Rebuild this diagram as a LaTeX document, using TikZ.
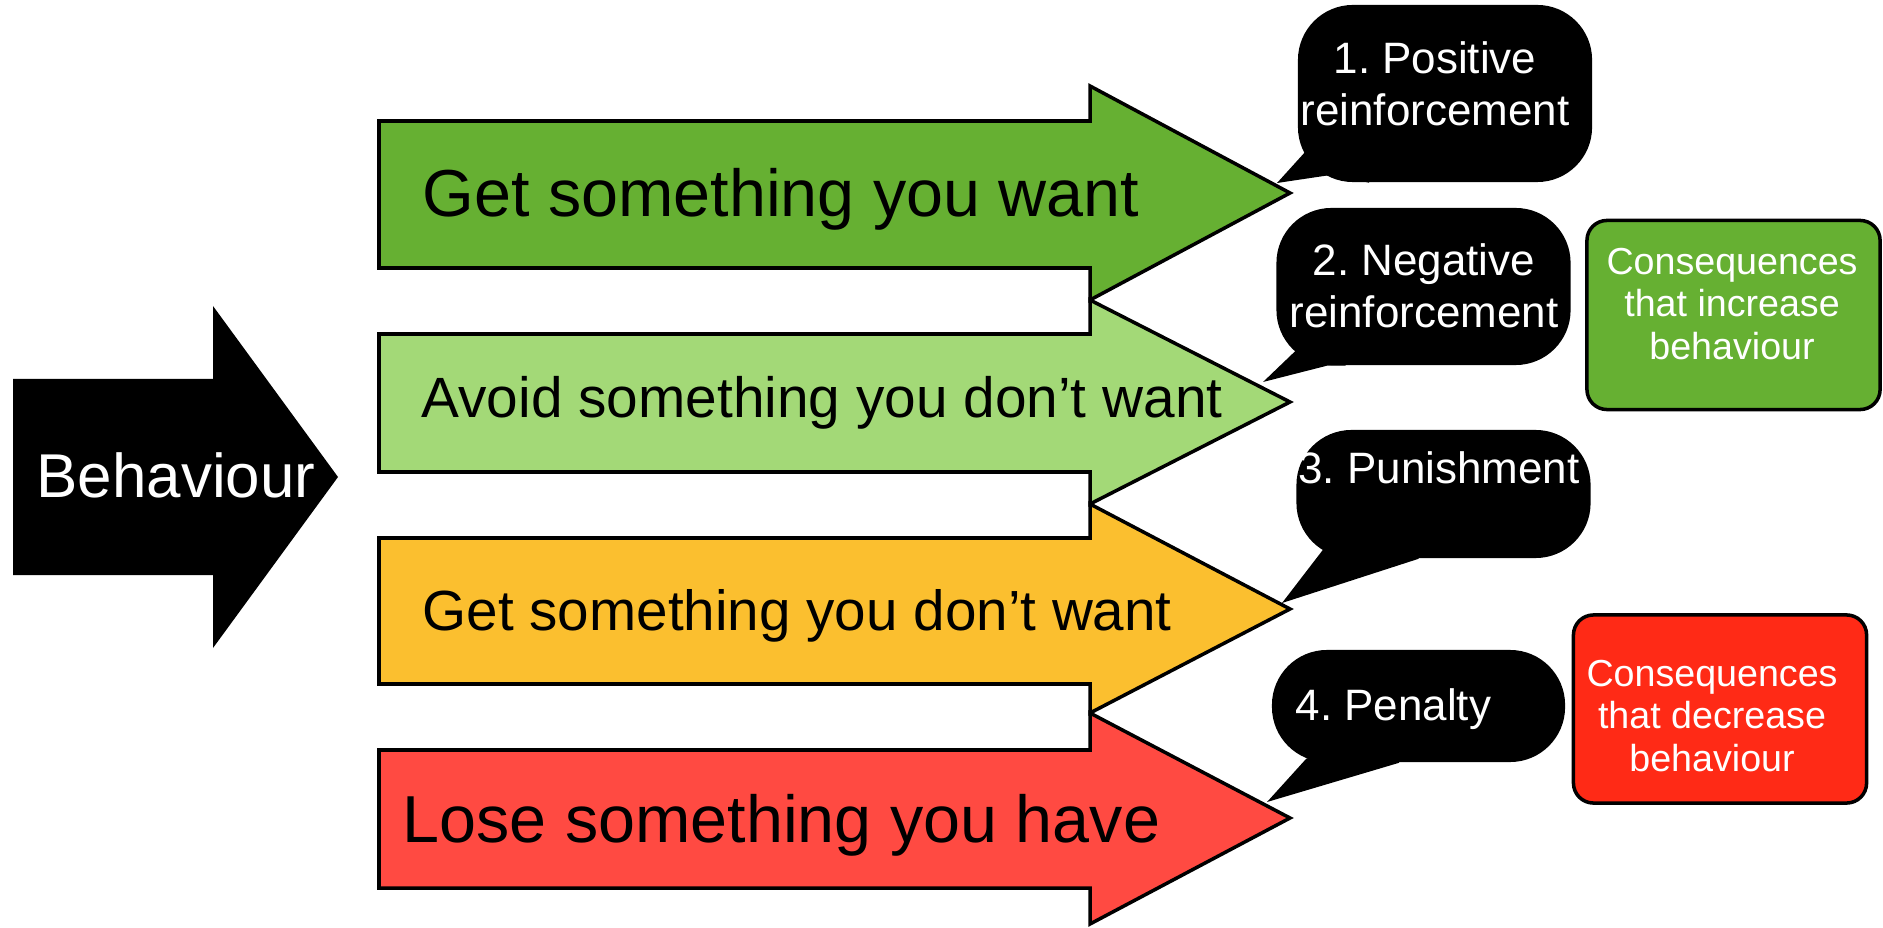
\documentclass[tikz,border=0pt]{standalone}
\usepackage{fontspec}
\setmainfont{Liberation Sans}
\usetikzlibrary{calc}
\definecolor{wantgreen}{HTML}{66B032}
\definecolor{avoidgreen}{HTML}{A3D977}
\definecolor{dontyellow}{HTML}{FBBF2F}
\definecolor{losered}{HTML}{FF4A42}
\definecolor{boxred}{HTML}{FF2A16}
\frenchspacing

\begin{document}
\begin{tikzpicture}[
    x=0.01cm, y=-0.01cm,
    bigarrow/.style = {draw=black, line width=1pt, line join=miter},
    arrowtext/.style = {anchor=base west, inner sep=0, text=black},
    bubble/.style = {fill=black, rounded corners=5.5mm, minimum width=2.94cm, inner sep=0},
    bubbletext/.style = {text=white, align=center, inner sep=0, font=\fontsize{12.5}{14.8}\selectfont},
    consbox/.style = {draw=black, line width=1pt, rounded corners=2mm, minimum width=2.93cm, minimum height=1.89cm, inner sep=0},
    constext/.style = {text=white, align=center, inner sep=0, font=\fontsize{10.7}{12.2}\selectfont}
  ]
  \useasboundingbox (0,0) rectangle (1883,928);

  \fill (13,379) -- (213,379) -- (213,306) -- (338,477) -- (213,648) -- (213,575) -- (13,575) -- cycle;
  \node[anchor=base, text=white, inner sep=0, font=\fontsize{17.6}{20}\selectfont] (behaviour) at (176,498) {Behaviour};

  \draw[bigarrow, fill=wantgreen] (379,121) -- (1090,121) -- (1090,86) -- (1290,193) -- (1090,300) -- (1090,268) -- (379,268) -- cycle;
  \draw[bigarrow, fill=avoidgreen] (379,334) -- (1090,334) -- (1090,300) -- (1290,402) -- (1090,504) -- (1090,472) -- (379,472) -- cycle;
  \draw[bigarrow, fill=dontyellow] (379,538) -- (1090,538) -- (1090,504) -- (1290,609) -- (1090,713) -- (1090,684) -- (379,684) -- cycle;
  \draw[bigarrow, fill=losered] (379,750) -- (1090,750) -- (1090,713) -- (1290,818) -- (1090,924) -- (1090,888) -- (379,888) -- cycle;

  \node[arrowtext, font=\fontsize{18.9}{22}\selectfont] (want_text) at (422,217) {Get something you want};
  \node[arrowtext, font=\fontsize{16.15}{19}\selectfont] (avoid_text) at (421,418) {Avoid something you don’t want};
  \node[arrowtext, font=\fontsize{16.1}{19}\selectfont] (dont_text) at (422,630) {Get something you don’t want};
  \node[arrowtext, font=\fontsize{18.9}{22}\selectfont] (lose_text) at (402,842) {Lose something you have};

  \node[bubble, minimum height=1.77cm] (bubble_1) at (1445,93.5) {};
  \node[bubble, minimum height=1.57cm] (bubble_2) at (1423.5,286.5) {};
  \node[bubble, minimum height=1.28cm] (bubble_3) at (1443.5,494) {};
  \node[bubble, minimum height=1.12cm, minimum width=2.93cm] (bubble_4) at (1418.5,706) {};

  \coordinate (tip_1) at (1277,183);
  \coordinate (tip_2) at (1263,382);
  \coordinate (tip_3) at (1282,603);
  \coordinate (tip_4) at (1267,802);

  \fill ($(bubble_1.south west)+(9,-32)$) -- (tip_1) -- ($(bubble_1.south west)+(35,-8)$) -- ($(bubble_1.south west)+(72,0)$) -- ($(bubble_1.south west)+(72,-40)$) -- cycle;
  \fill ($(bubble_2.south west)+(22,-17)$) -- (tip_2) -- ($(bubble_2.south west)+(51,0)$) -- ($(bubble_2.south west)+(70,0)$) -- ($(bubble_2.south west)+(70,-40)$) -- cycle;
  \fill ($(bubble_3.south west)+(28,-10)$) -- (tip_3) -- ($(bubble_3.south west)+(123,0)$) -- ($(bubble_3.south west)+(123,-40)$) -- cycle;
  \fill ($(bubble_4.south west)+(35,-4)$) -- (tip_4) -- ($(bubble_4.south west)+(128,0)$) -- ($(bubble_4.south west)+(128,-40)$) -- cycle;

  \node[bubbletext] (label_1) at (1435,84) {1. Positive\\reinforcement};
  \node[bubbletext] (label_2) at (1424,286) {2. Negative\\reinforcement};
  \node[bubbletext, anchor=base] (label_3) at (1439,483) {3. Punishment};
  \node[bubbletext, anchor=base west] (label_4) at (1295,720) {4. Penalty};

  \node[consbox, fill=wantgreen] (increase_box) at (1733.5,315) {};
  \node[constext] (increase_text) at (1732,304) {Consequences\\that increase\\behaviour};
  \node[consbox, fill=boxred, minimum height=1.88cm] (decrease_box) at (1720,709) {};
  \node[constext] (decrease_text) at (1712,716) {Consequences\\that decrease\\behaviour};
\end{tikzpicture}
\end{document}
